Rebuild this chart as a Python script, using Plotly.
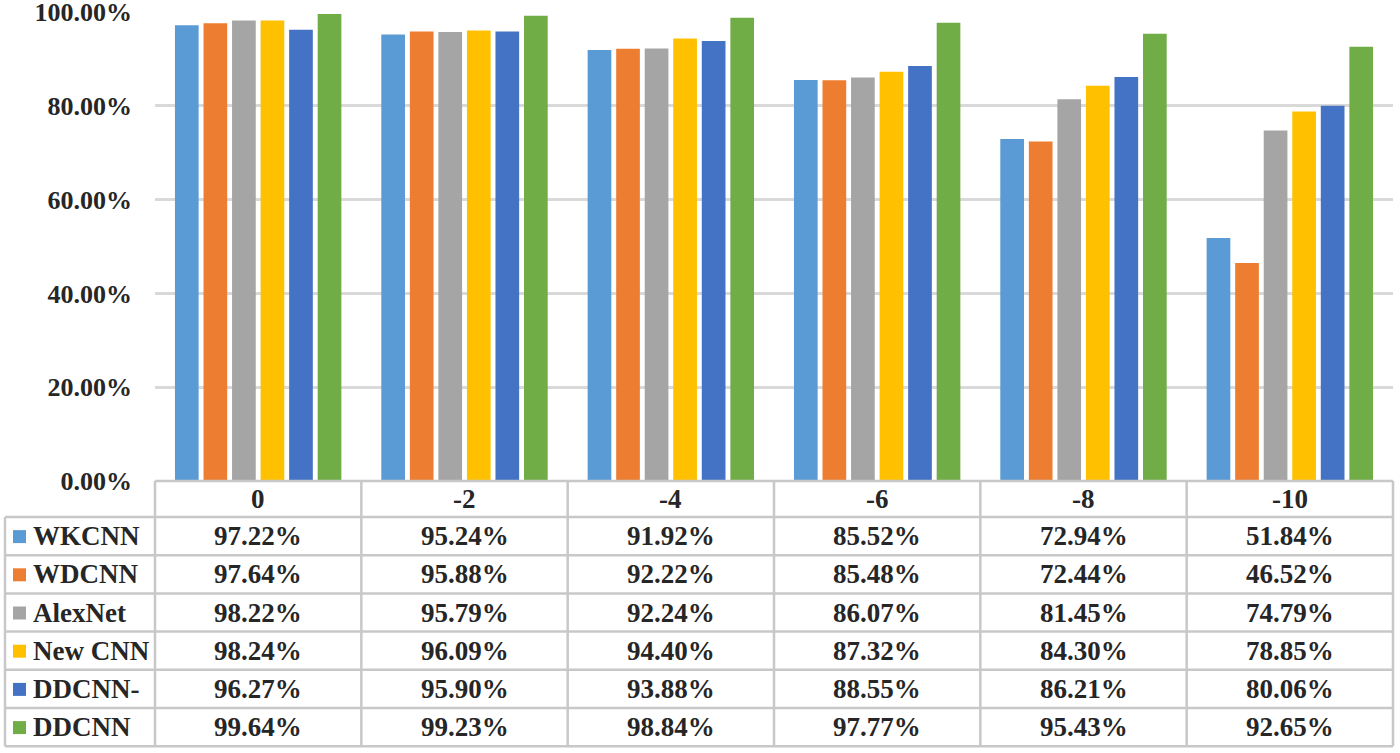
import plotly.graph_objects as go

categories = ["0", "-2", "-4", "-6", "-8", "-10"]
models = ["WKCNN", "WDCNN", "AlexNet", "New CNN", "DDCNN-", "DDCNN"]
wkcnn = [97.22, 95.24, 91.92, 85.52, 72.94, 51.84]
wdcnn = [97.64, 95.88, 92.22, 85.48, 72.44, 46.52]
alexnet = [98.22, 95.79, 92.24, 86.07, 81.45, 74.79]
new_cnn = [98.24, 96.09, 94.40, 87.32, 84.30, 78.85]
ddcnn_minus = [96.27, 95.90, 93.88, 88.55, 86.21, 80.06]
ddcnn = [99.64, 99.23, 98.84, 97.77, 95.43, 92.65]
series = [wkcnn, wdcnn, alexnet, new_cnn, ddcnn_minus, ddcnn]
colors = ["#5B9BD5", "#ED7D31", "#A5A5A5", "#FFC000", "#4472C4", "#70AD47"]

W, H = 1400, 753
def px(x):
    return x / W
def py(y):
    return 1 - y / H

FONT = "Liberation Serif"
TXT = "#262626"
LINE = "#c8c8c8"

# layout geometry (pixels)
plot_l, plot_r = 155, 1393
y_top, y_zero = 12, 481
head_b = 517
row_h = 38.2
tab_l = 5

fig = go.Figure()
for name, vals, c in zip(models, series, colors):
    fig.add_trace(go.Bar(name=name, x=categories, y=[v / 100 for v in vals],
                         marker=dict(color=c, line=dict(width=0))))

shapes = []
ann = []
n = len(categories)
colw = (plot_r - plot_l) / n
# header top line
shapes.append(dict(type="line", xref="paper", yref="paper", x0=px(plot_l), x1=px(plot_r),
                   y0=py(y_zero), y1=py(y_zero), line=dict(color=LINE, width=2.5)))
# horizontal row lines
for i in range(len(models) + 1):
    yy = head_b + i * row_h
    shapes.append(dict(type="line", xref="paper", yref="paper", x0=px(tab_l), x1=px(plot_r),
                       y0=py(yy), y1=py(yy), line=dict(color=LINE, width=2.5)))
# vertical lines
y_bot = head_b + len(models) * row_h
shapes.append(dict(type="line", xref="paper", yref="paper", x0=px(tab_l), x1=px(tab_l),
                   y0=py(head_b), y1=py(y_bot), line=dict(color=LINE, width=2.5)))
for j in range(n + 1):
    xx = plot_l + j * colw
    shapes.append(dict(type="line", xref="paper", yref="paper", x0=px(xx), x1=px(xx),
                       y0=py(y_zero), y1=py(y_bot), line=dict(color=LINE, width=2.5)))

# header labels
for j, cat in enumerate(categories):
    ann.append(dict(x=j, xref="x", y=py((y_zero + head_b) / 2), yref="paper",
                    text=cat, showarrow=False, xanchor="center", yanchor="middle",
                    font=dict(family=FONT, size=27, color=TXT, weight="bold")))
# rows
for i, (name, vals, c) in enumerate(zip(models, series, colors)):
    yc = head_b + (i + 0.5) * row_h
    shapes.append(dict(type="rect", xref="paper", yref="paper",
                       x0=px(13), x1=px(26), y0=py(yc - 6), y1=py(yc + 7),
                       fillcolor=c, line=dict(width=0)))
    ann.append(dict(x=px(31), xref="paper", y=py(yc), yref="paper", text=name,
                    showarrow=False, xanchor="left", yanchor="middle",
                    font=dict(family=FONT, size=27, color=TXT, weight="bold")))
    for j, v in enumerate(vals):
        ann.append(dict(x=j, xref="x", y=py(yc), yref="paper", text=f"{v:.2f}%",
                        showarrow=False, xanchor="center", yanchor="middle",
                        font=dict(family=FONT, size=27, color=TXT, weight="bold")))

fig.update_layout(
    width=W, height=H, margin=dict(l=0, r=0, t=0, b=0, autoexpand=False),
    paper_bgcolor="white", plot_bgcolor="white",
    barmode="group", bargap=0.17, bargroupgap=0.17,
    showlegend=False,
    xaxis=dict(type="category", domain=[px(plot_l), px(plot_r)], range=[-0.5, n - 0.5],
               automargin=False,
               showticklabels=False, showgrid=False, zeroline=False, showline=False, ticks=""),
    yaxis=dict(domain=[py(y_zero), py(y_top)], range=[0, 1.0005], dtick=0.2, tickformat=".2%",
               automargin=False,
               showgrid=True, gridcolor="#d9d9d9", gridwidth=2.5, zeroline=False,
               showline=False, ticks="", ticklabelstandoff=22, ticklabeloverflow="allow",
               tickfont=dict(family=FONT, size=26, color=TXT, weight="bold")),
    shapes=shapes, annotations=ann,
)
fig.write_html("out.html", config={"displayModeBar": False},
               post_script="document.body.style.margin='0';document.body.style.overflow='hidden';")
